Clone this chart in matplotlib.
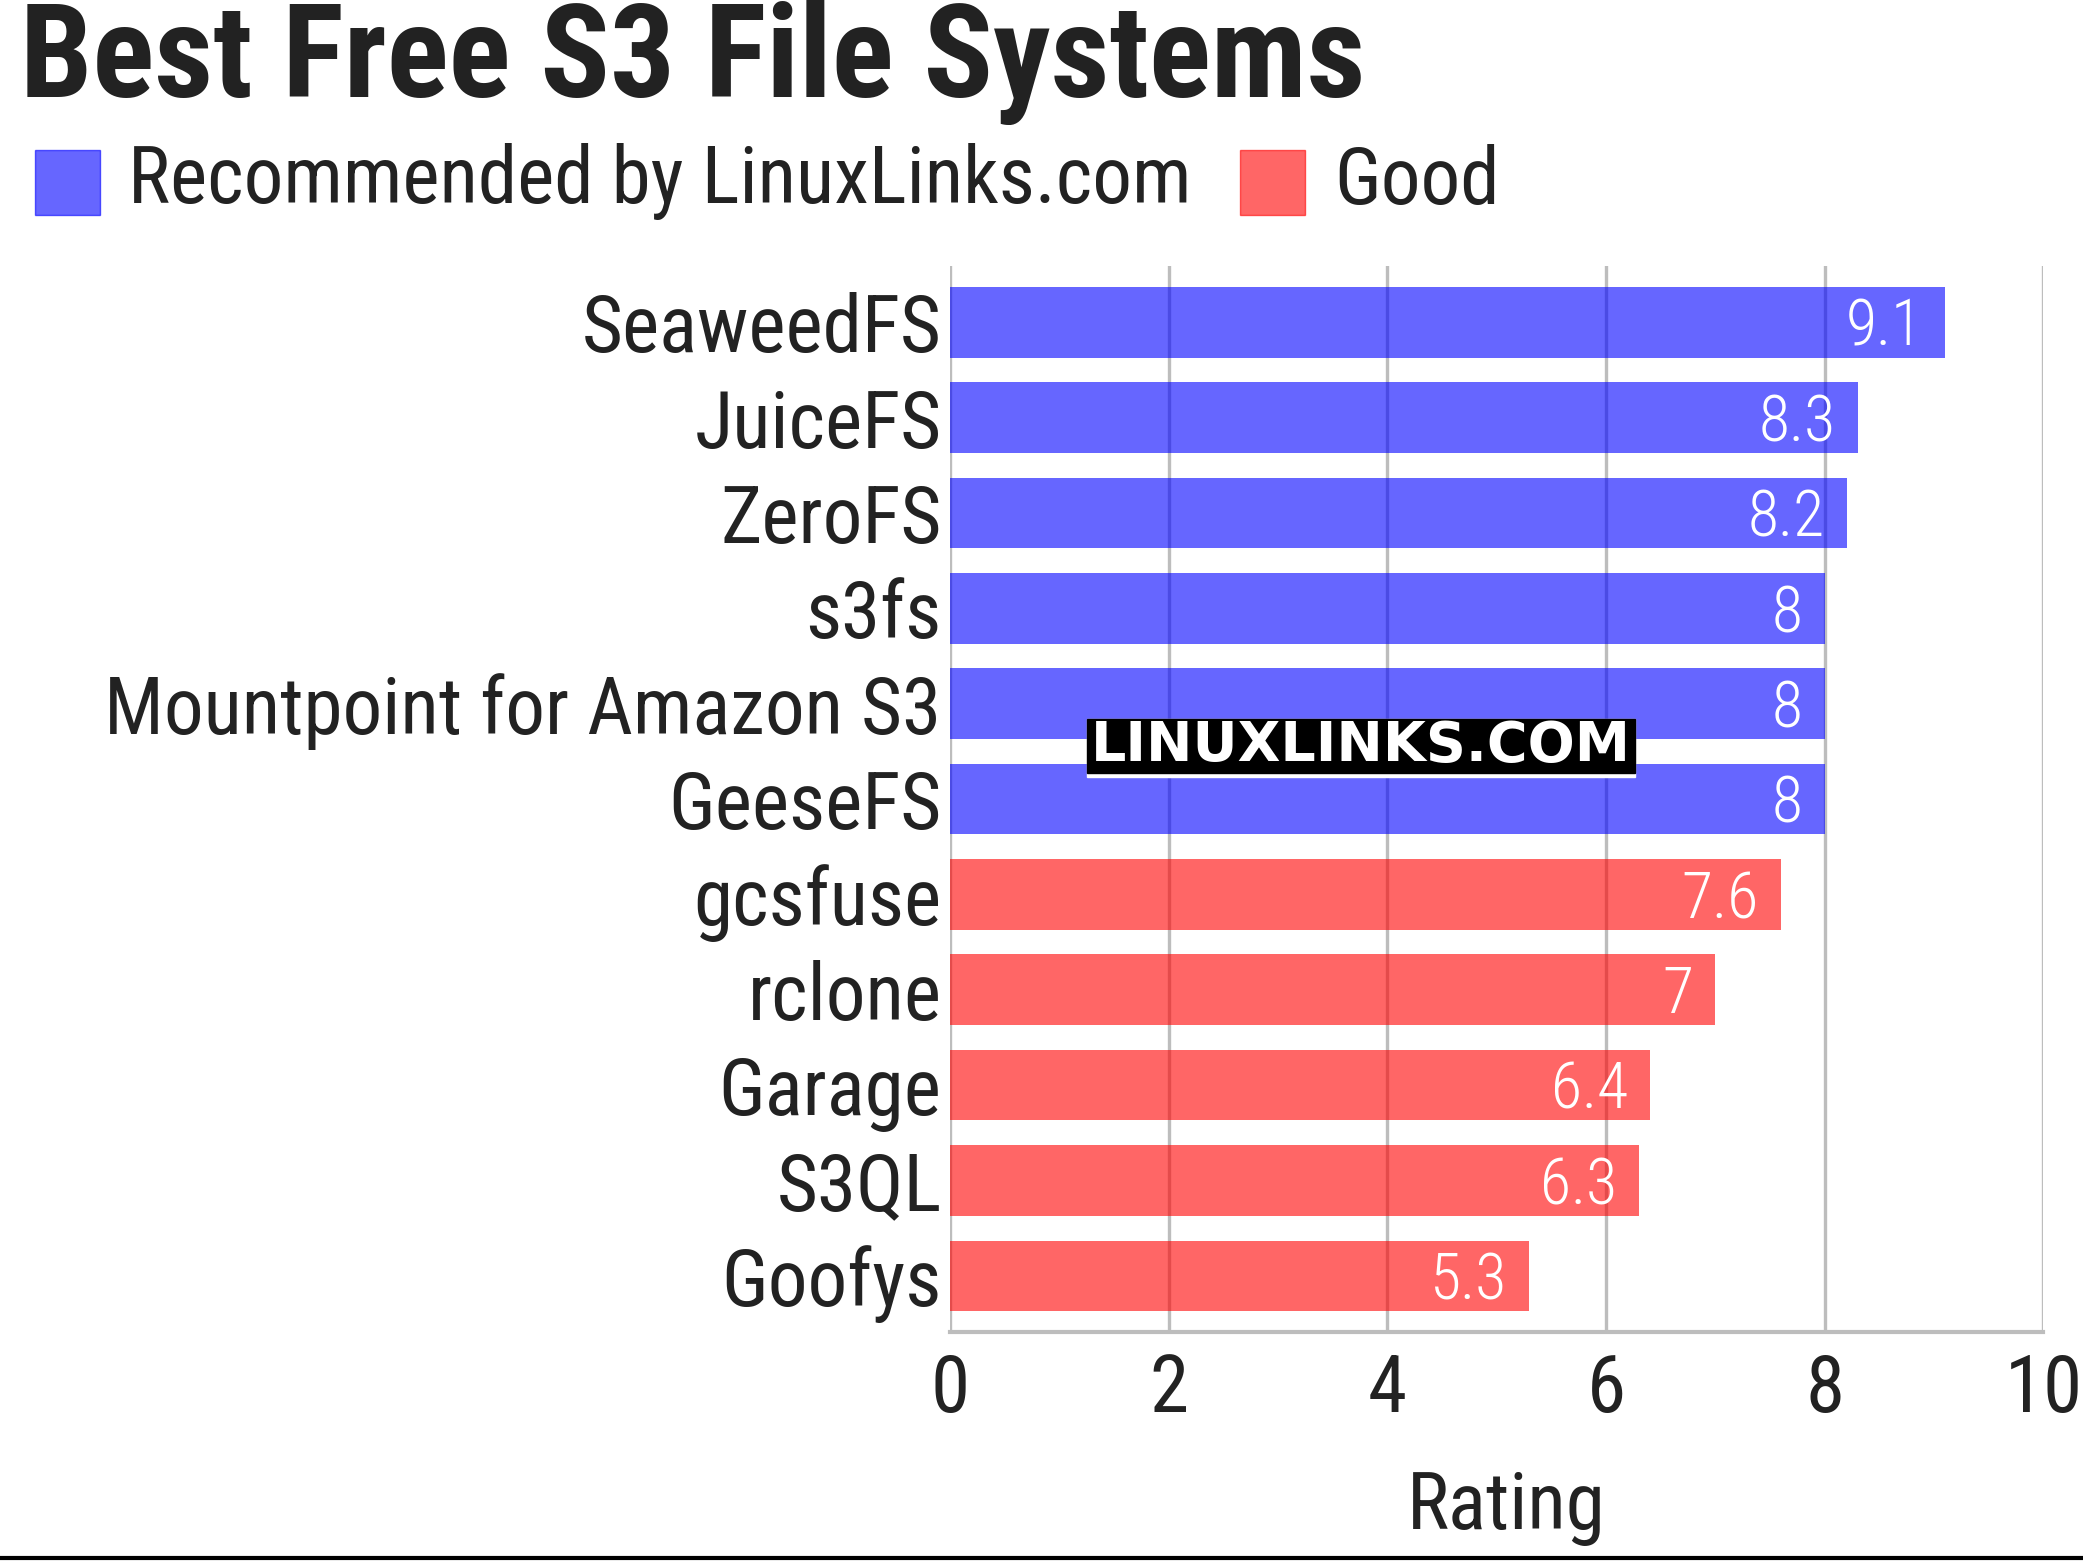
import matplotlib
matplotlib.use("Agg")
import matplotlib.pyplot as plt
from matplotlib.patches import Rectangle

names = ["SeaweedFS", "JuiceFS", "ZeroFS", "s3fs", "Mountpoint for Amazon S3",
         "GeeseFS", "gcsfuse", "rclone", "Garage", "S3QL", "Goofys"]
ratings = [9.1, 8.3, 8.2, 8, 8, 8, 7.6, 7, 6.4, 6.3, 5.3]
groups = ["rec"] * 6 + ["good"] * 5
ticks = [0, 2, 4, 6, 8, 10]

plt.rcParams["font.family"] = ["Roboto Condensed", "DejaVu Sans"]
TXT = "#222222"

fig = plt.figure(figsize=(20.83, 15.62), dpi=100)
ax = fig.add_axes([0.456, 0.1472, 0.525, 0.6825])

colors = {"rec": (0, 0, 1, 0.6), "good": (1, 0, 0, 0.6)}
y = list(range(len(names)))
ax.barh(y, ratings, height=0.74, color=[colors[g] for g in groups], zorder=2)
for yi, v in zip(y, ratings):
    ax.text(v - 0.2, yi + 0.06, f"{v:g}", ha="right", va="center", color="white",
            fontsize=46, fontweight="light", zorder=3)

ax.set_xlim(0, 10)
ax.set_ylim(10.59, -0.59)
ax.set_xticks(ticks)
ax.set_xticklabels([str(t) for t in ticks])
ax.set_yticks(y)
ax.set_yticklabels(names)
ax.tick_params(axis="both", length=0, labelsize=57, labelcolor=TXT)
ax.tick_params(axis="y", pad=6)
ax.tick_params(axis="x", pad=14)
ax.grid(axis="x", color="#bdbdbd", linewidth=2.4, zorder=1)
ax.set_axisbelow(True)
for s in ["top", "right", "left"]:
    ax.spines[s].set_visible(False)
ax.spines["bottom"].set_color("#bdbdbd")
ax.spines["bottom"].set_linewidth(3)
ax.set_xlabel("Rating", fontsize=57, color=TXT)
ax.xaxis.set_label_coords(0.5085, -0.165)
ax.xaxis.label.set_va("center")

fig.text(0.0096, 0.938, "Best Free S3 File Systems", fontsize=93, fontweight="bold",
         color=TXT, va="baseline")

# legend
fig.patches.append(Rectangle((35 / 2083, 1 - 215 / 1562), 65 / 2083, 65 / 1562,
                             transform=fig.transFigure, color=colors["rec"]))
fig.text(128 / 2083, 1 - 182 / 1562, "Recommended by LinuxLinks.com", fontsize=57,
         color=TXT, va="center")
fig.patches.append(Rectangle((1240 / 2083, 1 - 215 / 1562), 65 / 2083, 65 / 1562,
                             transform=fig.transFigure, color=colors["good"]))
fig.text(1334 / 2083, 1 - 182 / 1562, "Good", fontsize=57, color=TXT, va="center")

# watermark
fig.patches.append(Rectangle((1087 / 2083, 1 - 777 / 1562), 548 / 2083, 58 / 1562,
                             transform=fig.transFigure, color="white", zorder=4))
fig.patches.append(Rectangle((1087 / 2083, 1 - 773 / 1562), 548 / 2083, 54 / 1562,
                             transform=fig.transFigure, color="black", zorder=4))
fig.text(1361 / 2083, 1 - 746 / 1562, "LINUXLINKS.COM", fontsize=40, fontweight="bold",
         family="DejaVu Sans", color="white", ha="center", va="center", zorder=5)

fig.add_artist(plt.Line2D([0, 1], [1 - 1558 / 1562] * 2, color="black", linewidth=3))

fig.savefig("out.png", dpi=100)
